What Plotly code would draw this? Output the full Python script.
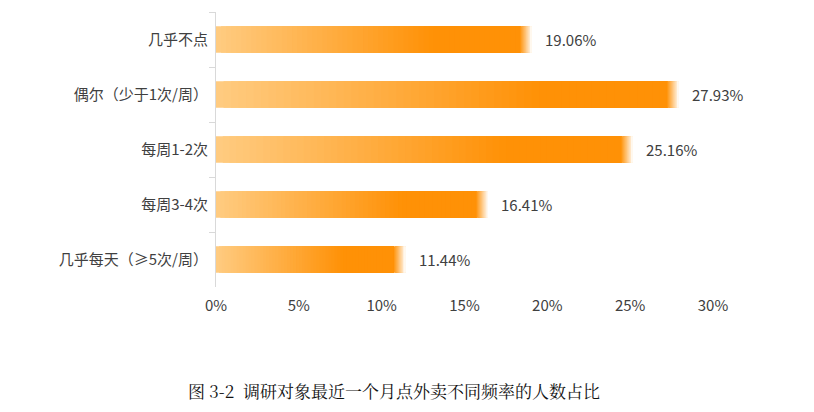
import plotly.graph_objects as go

# data
categories = ["几乎不点", "偶尔（少于1次/周）", "每周1-2次", "每周3-4次", "几乎每天（≥5次/周）"]
shares = [19.06, 27.93, 25.16, 16.41, 11.44]
x_ticks = [0, 5, 10, 15, 20, 25, 30]
caption = "图 3-2  调研对象最近一个月点外卖不同频率的人数占比"

LIGHT = (255, 203, 128)
ORANGE = (255, 145, 6)
N_SEG = 60
FADE = 0.7  # data units of soft edge at the bar end


def mix(c1, c2, t):
    return "rgb(%d,%d,%d)" % tuple(round(a + (b - a) * t) for a, b in zip(c1, c2))


fig = go.Figure()

# gradient body: overlapping bars, each one starting a little further right
for k in range(N_SEG):
    t = k / (N_SEG - 1)
    color = mix(LIGHT, ORANGE, min(t / 0.72, 1.0))
    steps = [(v - FADE) / N_SEG for v in shares]
    fig.add_trace(go.Bar(
        y=categories,
        x=[(v - FADE) - s * k for v, s in zip(shares, steps)],
        base=[s * k for s in steps],
        orientation="h",
        width=0.48,
        marker=dict(color=color, line_width=0),
        hoverinfo="skip",
        showlegend=False,
    ))

# soft fade at the end of each bar
n_fade = 14
for k in range(n_fade):
    t = (k + 1) / (n_fade + 1)
    start = FADE / n_fade * k
    fig.add_trace(go.Bar(
        y=categories,
        x=[FADE - start] * len(shares),
        base=[v - FADE + start for v in shares],
        orientation="h",
        width=0.48,
        marker=dict(color=mix(ORANGE, (255, 255, 255), t), line_width=0),
        hoverinfo="skip",
        showlegend=False,
    ))

for cat, v in zip(categories, shares):
    fig.add_annotation(
        x=v, y=cat, text=f"{v:.2f}%", showarrow=False,
        xanchor="left", xshift=11,
        font=dict(size=15, color="#404040"),
    )

fig.add_annotation(
    x=0.358, y=-0.375, xref="paper", yref="paper",
    text=caption, showarrow=False, xanchor="center", yanchor="middle",
    font=dict(family="Noto Serif CJK SC, SimSun, Noto Sans CJK SC, serif", size=17, color="#111111"),
)

# page body adds ~8px offset, so margins are shifted by that much
fig.update_layout(
    width=814, height=412,
    barmode="overlay",
    plot_bgcolor="white", paper_bgcolor="white",
    margin=dict(l=208, r=109, t=4, b=133),
    font=dict(family="Noto Sans CJK SC, Microsoft YaHei, sans-serif", size=15, color="#404040"),
)
fig.update_xaxes(
    range=[0, 30], tickvals=x_ticks,
    ticktext=[f"{t}%" for t in x_ticks],
    showgrid=False, zeroline=False, showline=False,
    ticklabelstandoff=8, fixedrange=True, automargin=False,
)
fig.update_yaxes(
    categoryorder="array", categoryarray=categories, autorange="reversed",
    showline=True, linecolor="#d9d9d9", linewidth=1,
    ticks="outside", tickson="boundaries", ticklen=6, tickcolor="#d9d9d9",
    showgrid=False, ticklabelstandoff=4, fixedrange=True, automargin=False,
)

fig.write_html("out.html")
